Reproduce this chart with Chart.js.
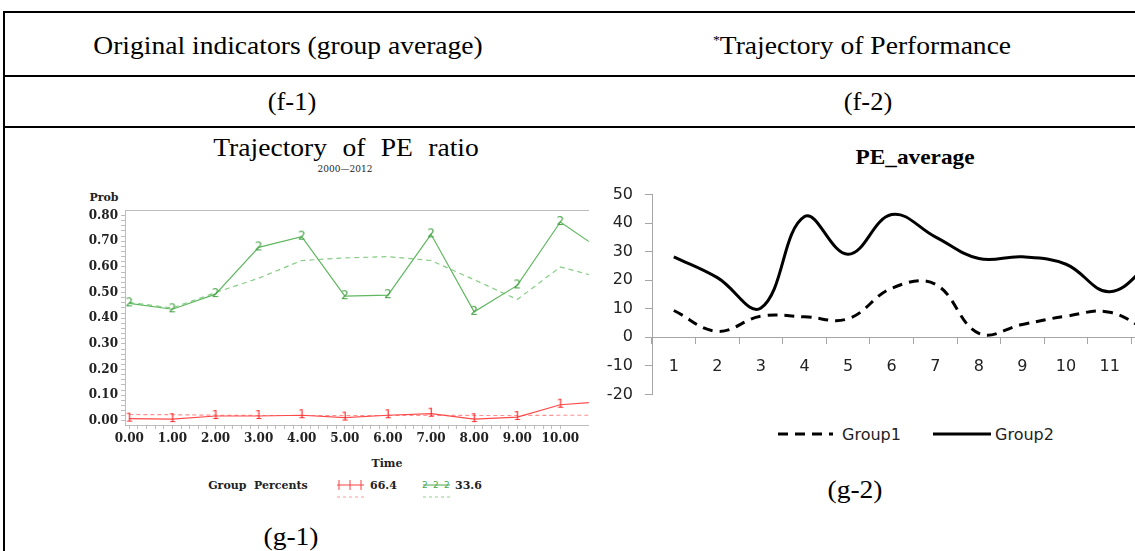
<!DOCTYPE html>
<html>
<head>
<meta charset="utf-8">
<script src="https://cdn.jsdelivr.net/npm/chart.js@4.4.0/dist/chart.umd.min.js"></script>
<style>
html, body { margin: 0; padding: 0; background: #fff; }
body { width: 1135px; height: 551px; position: relative; overflow: hidden; font-family: "Liberation Serif", serif; color: #000; }
.rule { position: absolute; background: #000; }
.txt { position: absolute; white-space: nowrap; transform: translate(-50%, -50%) scaleX(1.06); }
.sas { position: absolute; white-space: nowrap; font-family: "DejaVu Serif", serif; color: #222; transform: translate(-50%, -50%); }
canvas { position: absolute; }
</style>
</head>
<body>
<!-- table rules -->
<div class="rule" style="left:3px;top:11px;width:1132px;height:2px"></div>
<div class="rule" style="left:3px;top:75px;width:1132px;height:2px"></div>
<div class="rule" style="left:3px;top:126px;width:1132px;height:2px"></div>
<div class="rule" style="left:3px;top:11px;width:2px;height:540px"></div>

<div class="txt" style="left:288px;top:46px;font-size:26px">Original indicators (group average)</div>
<div class="txt" style="left:862px;top:46px;font-size:26px"><sup style="font-size:13px">*</sup>Trajectory of Performance</div>
<div class="txt" style="left:292px;top:102px;font-size:25px">(f-1)</div>
<div class="txt" style="left:868px;top:102px;font-size:25px">(f-2)</div>

<!-- left chart texts -->
<div class="txt" style="left:346px;top:148px;font-size:26px;word-spacing:8px">Trajectory of PE ratio</div>
<div class="sas" style="left:345px;top:169px;font-size:9px">2000—2012</div>
<div class="sas" style="left:104px;top:197px;font-size:11px;font-weight:bold">Prob</div>
<div class="sas" style="left:387px;top:463px;font-size:11px;font-weight:bold">Time</div>
<div class="sas" style="left:258px;top:485px;font-size:11px;font-weight:bold">Group&nbsp; Percents</div>
<svg style="position:absolute;left:334px;top:475px" width="160" height="28">
  <line x1="3" y1="10" x2="30" y2="10" stroke="#ff4040" stroke-width="1"/>
  <line x1="5" y1="5" x2="5" y2="15" stroke="#ff4040"/>
  <line x1="16" y1="5" x2="16" y2="15" stroke="#ff4040"/>
  <line x1="27" y1="5" x2="27" y2="15" stroke="#ff4040"/>
  <line x1="3" y1="22" x2="30" y2="22" stroke="#ff9a9a" stroke-dasharray="3,3"/>
  <text x="36" y="14" font-family="DejaVu Serif" font-size="11" font-weight="bold" fill="#222">66.4</text>
  <line x1="89" y1="10" x2="116" y2="10" stroke="#4aa84a" stroke-width="1"/>
  <text x="88" y="13" font-family="DejaVu Sans" font-size="9" fill="#4aa84a">2</text>
  <text x="99" y="13" font-family="DejaVu Sans" font-size="9" fill="#4aa84a">2</text>
  <text x="110" y="13" font-family="DejaVu Sans" font-size="9" fill="#4aa84a">2</text>
  <line x1="89" y1="22" x2="116" y2="22" stroke="#8fd08f" stroke-dasharray="3,3"/>
  <text x="121" y="14" font-family="DejaVu Serif" font-size="11" font-weight="bold" fill="#222">33.6</text>
</svg>
<div class="txt" style="left:291px;top:537px;font-size:26px">(g-1)</div>

<!-- right chart texts -->
<div class="txt" style="left:915px;top:157px;font-size:22px;font-weight:bold">PE_average</div>
<svg style="position:absolute;left:770px;top:422px" width="300" height="24">
  <line x1="8" y1="12" x2="63" y2="12" stroke="#000" stroke-width="3" stroke-dasharray="10,7"/>
  <text x="72" y="18" font-family="DejaVu Sans" font-size="16" fill="#222">Group1</text>
  <line x1="163" y1="12" x2="221" y2="12" stroke="#000" stroke-width="3"/>
  <text x="225" y="18" font-family="DejaVu Sans" font-size="16" fill="#222">Group2</text>
</svg>
<div class="txt" style="left:855px;top:490px;font-size:26px">(g-2)</div>

<canvas id="leftChart" width="515" height="260" style="left:80px;top:200px"></canvas>
<canvas id="rightChart" width="590" height="243" style="left:600px;top:173px"></canvas>

<script>
// ---- g-1 : Trajectory of PE ratio (SAS traj plot) ----
const timePoints = [0, 1, 2, 3, 4, 5, 6, 7, 8, 9, 10, 11]
const grp1Observed = [0.009, 0.007, 0.019, 0.019, 0.022, 0.013, 0.022, 0.028, 0.007, 0.015, 0.063, 0.075]
const grp1Predicted = [0.025, 0.024, 0.022, 0.021, 0.021, 0.021, 0.021, 0.022, 0.021, 0.021, 0.022, 0.022]
const grp2Observed = [0.458, 0.435, 0.494, 0.676, 0.718, 0.486, 0.490, 0.727, 0.425, 0.528, 0.775, 0.66]
const grp2Predicted = [0.462, 0.440, 0.500, 0.556, 0.625, 0.635, 0.640, 0.625, 0.550, 0.473, 0.600, 0.555]
const probTicks = [0, 0.1, 0.2, 0.3, 0.4, 0.5, 0.6, 0.7, 0.8]
const timeTicks = [0, 1, 2, 3, 4, 5, 6, 7, 8, 9, 10]

// ---- g-2 : PE_average ----
const periods = ['1', '2', '3', '4', '5', '6', '7', '8', '9', '10', '11', '12']
const group1 = [9.4, 2.1, 7.4, 7.2, 6.5, 17.2, 18.6, 1.4, 4.5, 7.4, 8.8, 1]
const group2 = [28.2, 20.9, 10.3, 42.3, 29.1, 43.0, 35.2, 27.6, 28.2, 25.6, 16.0, 27]
const peTicks = [-20, -10, 0, 10, 20, 30, 40, 50]

function glyph(ch, color, size){
    const c = document.createElement('canvas')
    c.width = 10
    c.height = 14
    const g = c.getContext('2d')
    g.fillStyle = color
    g.font = size + 'px "DejaVu Sans"'
    g.textAlign = 'center'
    g.textBaseline = 'middle'
    g.fillText(ch, 5, 7)
    return c
}

function pts(ys){
    return timePoints.map((t, i) => ({x: t, y: ys[i]}))
}

// minor ticks between the labelled ones
function withMinor(major, parts){
    const out = []
    for (let i = 0; i < major.length - 1; i++){
        const step = (major[i + 1] - major[i]) / parts
        for (let k = 0; k < parts; k++) out.push(major[i] + k * step)
    }
    out.push(major[major.length - 1])
    return out
}

const isWhole = (v, m) => Math.abs(v * m - Math.round(v * m)) < 1e-6
const sasFont = {family: '"DejaVu Serif"', size: 12, weight: 'bold'}
const axisGrey = '#bdbdbd'

var leftCtx = document.getElementById('leftChart').getContext('2d')
new Chart(leftCtx, {
    type: 'line',
    data: {
        datasets: [
            {
                label: '66.4',
                data: pts(grp1Observed),
                borderColor: '#ff4a4a',
                borderWidth: 1.2,
                pointStyle: glyph('1', '#ff2a2a', 12),
                pointRadius: 5,
            },
            {
                label: '66.4 pred',
                data: pts(grp1Predicted),
                borderColor: '#ff9090',
                borderWidth: 1.2,
                borderDash: [4, 3],
                pointRadius: 0,
            },
            {
                label: '33.6',
                data: pts(grp2Observed),
                borderColor: '#5fb85f',
                borderWidth: 1.2,
                pointStyle: glyph('2', '#43a043', 12),
                pointRadius: 5,
            },
            {
                label: '33.6 pred',
                data: pts(grp2Predicted),
                borderColor: '#86cc86',
                borderWidth: 1.2,
                borderDash: [5, 4],
                pointRadius: 0,
            },
        ]
    },
    options: {
        responsive: false,
        animation: false,
        layout: {padding: {left: 0, right: 6, top: 7, bottom: 5}},
        plugins: {legend: {display: false}, tooltip: {enabled: false}},
        scales: {
            x: {
                type: 'linear',
                min: -0.1,
                max: 10.66,
                afterBuildTicks: (s) => { s.ticks = withMinor(timeTicks, 5).map(v => ({value: v})) },
                afterFit: (s) => { s.height = 30 },
                ticks: {
                    autoSkip: false,
                    maxRotation: 0,
                    padding: 3,
                    color: '#222',
                    font: sasFont,
                    callback: (v) => isWhole(v, 1) ? v.toFixed(2) : ''
                },
                grid: {drawOnChartArea: false, tickLength: 4, tickColor: axisGrey},
                border: {color: axisGrey}
            },
            xTop: {
                type: 'linear',
                position: 'top',
                min: -0.1,
                max: 10.66,
                ticks: {display: false},
                grid: {display: false, drawTicks: false},
                border: {color: axisGrey}
            },
            y: {
                min: -0.016,
                max: 0.821,
                afterBuildTicks: (s) => { s.ticks = withMinor(probTicks, 5).map(v => ({value: v})) },
                afterFit: (s) => { s.width = 45 },
                ticks: {
                    autoSkip: false,
                    padding: 3,
                    color: '#222',
                    font: sasFont,
                    callback: (v) => isWhole(v, 10) ? v.toFixed(2) : ''
                },
                grid: {drawOnChartArea: false, tickLength: 4, tickColor: axisGrey},
                border: {color: axisGrey}
            }
        }
    }
})

var rightCtx = document.getElementById('rightChart').getContext('2d')
const peFont = {family: '"DejaVu Sans"', size: 16}
const peGrey = '#a6a6a6'
new Chart(rightCtx, {
    type: 'line',
    data: {
        labels: periods,
        datasets: [
            {
                label: 'Group1',
                data: group1,
                borderColor: '#000',
                borderWidth: 3,
                borderDash: [10, 7],
                tension: 0.4,
                pointRadius: 0,
            },
            {
                label: 'Group2',
                data: group2,
                borderColor: '#000',
                borderWidth: 3,
                tension: 0.4,
                pointRadius: 0,
            },
        ]
    },
    options: {
        responsive: false,
        animation: false,
        layout: {padding: {left: 0, right: 15, top: 9, bottom: 10}},
        plugins: {legend: {display: false}, tooltip: {enabled: false}},
        scales: {
            x: {
                position: {y: 0},
                offset: true,
                ticks: {autoSkip: false, maxRotation: 0, padding: 14, color: '#222', font: peFont},
                grid: {offset: true, drawOnChartArea: false, tickLength: 6, tickColor: peGrey},
                border: {color: peGrey}
            },
            y: {
                min: -20,
                max: 50,
                afterBuildTicks: (s) => { s.ticks = peTicks.map(v => ({value: v})) },
                afterFit: (s) => { s.width = 52 },
                ticks: {padding: 12, color: '#222', font: peFont},
                grid: {drawOnChartArea: false, tickLength: 7, tickColor: peGrey},
                border: {color: peGrey}
            }
        }
    }
})
</script>
</body>
</html>
